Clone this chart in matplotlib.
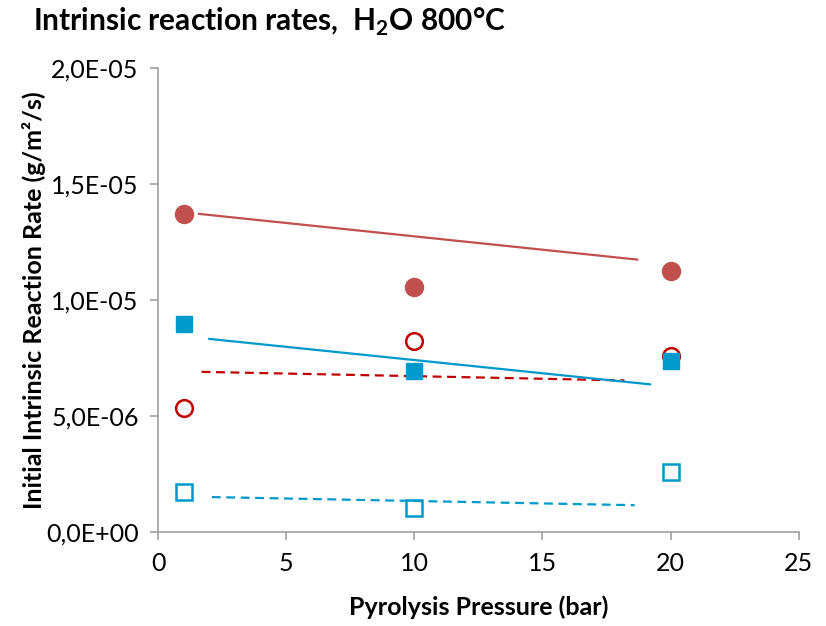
import numpy as np
import matplotlib.pyplot as plt
from matplotlib.ticker import FuncFormatter

plt.rcParams['font.family'] = ['Lato', 'DejaVu Sans']
plt.rcParams['mathtext.fontset'] = 'custom'
plt.rcParams['mathtext.rm'] = 'Lato'
plt.rcParams['mathtext.bf'] = 'Lato:bold'

pressure = [1, 10, 20]

# measured rates (g/m2/s)
red_filled = [1.373e-5, 1.055e-5, 1.125e-5]
red_open = [5.33e-6, 8.23e-6, 7.6e-6]
blue_filled = [8.97e-6, 6.95e-6, 7.37e-6]
blue_open = [1.74e-6, 1.05e-6, 2.6e-6]

# trend line end points (x, y)
red_trend_x = [1.6, 18.7]
red_trend_y = [1.372e-5, 1.175e-5]
red_dash_x = [1.7, 18.2]
red_dash_y = [6.91e-6, 6.54e-6]
blue_trend_x = [2.0, 19.2]
blue_trend_y = [8.33e-6, 6.37e-6]
blue_dash_x = [2.1, 18.6]
blue_dash_y = [1.51e-6, 1.16e-6]

c_red = '#C0504D'
c_dred = '#C00000'
c_blue = '#0099CC'

fig = plt.figure(figsize=(8.26, 6.26), dpi=100)
ax = fig.add_axes([0.1913, 0.150, 0.7757, 0.741])

ax.plot(red_trend_x, red_trend_y, color=c_red, lw=1.6)
ax.plot(red_dash_x, red_dash_y, color=c_dred, lw=1.6, ls=(0, (4, 2.5)))
ax.plot(blue_trend_x, blue_trend_y, color=c_blue, lw=1.6)
ax.plot(blue_dash_x, blue_dash_y, color=c_blue, lw=1.6, ls=(0, (4, 2.5)))

ax.plot(pressure, red_filled, 'o', color=c_red, ms=13, mec=c_red)
ax.plot(pressure, red_open, 'o', mfc='none', mec=c_dred, mew=1.8, ms=12)
ax.plot(pressure, blue_filled, 's', color=c_blue, ms=11, mec=c_blue)
ax.plot(pressure, blue_open, 's', mfc='none', mec=c_blue, mew=1.8, ms=11)

ax.set_xlim(0, 25)
ax.set_ylim(0, 2e-5)
ax.set_xticks([0, 5, 10, 15, 20, 25])
ax.set_yticks([0, 5e-6, 1e-5, 1.5e-5, 2e-5])
ax.yaxis.set_major_formatter(FuncFormatter(lambda v, p: f"{v:.1E}".replace('.', ',')))

for s in ['top', 'right']:
    ax.spines[s].set_visible(False)
for s in ['left', 'bottom']:
    ax.spines[s].set_color('#A0A0A0')
    ax.spines[s].set_linewidth(1.2)
ax.tick_params(colors='#A0A0A0', labelcolor='black', labelsize=18, length=6, width=1.2)
ax.tick_params(axis='y', pad=8)
ax.tick_params(axis='x', pad=8)

ax.set_xlabel('Pyrolysis Pressure (bar)', fontsize=18, fontweight='bold', labelpad=15)
ax.set_ylabel('Initial Intrinsic Reaction Rate (g/m²/s)', fontsize=18, fontweight='bold', labelpad=0)

fig.text(0.04, 0.965, r'Intrinsic reaction rates,  H$_\mathbf{2}$O 800°C',
         fontsize=21.5, fontweight='bold', va='center', ha='left')

fig.savefig('out.png', dpi=100)
